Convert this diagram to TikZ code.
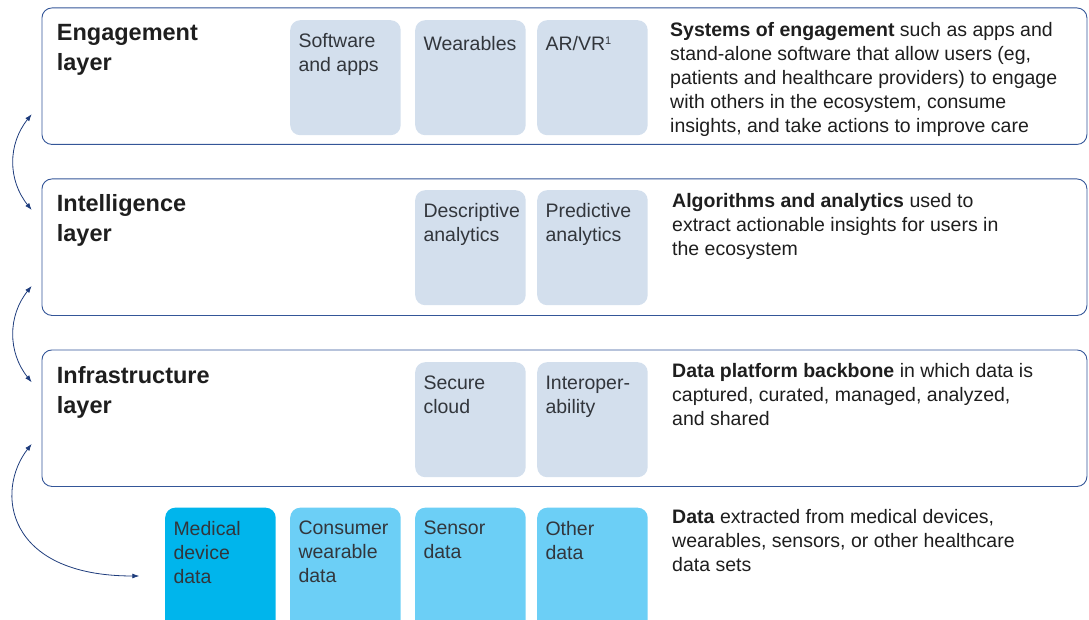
\documentclass[tikz,border=0pt]{standalone}
\usepackage{fontspec}
\setmainfont{Liberation Sans}
\usepackage{xcolor}
\usetikzlibrary{arrows.meta, positioning}
\definecolor{layerblue}{RGB}{52, 86, 152}
\definecolor{arrowblue}{RGB}{30, 60, 124}
\definecolor{toolcolor}{RGB}{211, 223, 237}
\definecolor{devicecolor}{RGB}{0, 181, 236}
\definecolor{datacolor}{RGB}{108, 207, 246}
\definecolor{inkcolor}{RGB}{30, 30, 30}
\definecolor{boxink}{RGB}{50, 54, 60}

\begin{document}
\begin{tikzpicture}[
    x=1pt, y=-1pt,
    layer/.style={draw=layerblue, line width=0.9pt, rounded corners=10pt, minimum width=1045pt, minimum height=136.5pt, anchor=north west, inner sep=0pt},
    title/.style={anchor=north west, align=left, inner sep=0pt, text=inkcolor, font=\fontsize{23.5}{30}\selectfont\bfseries, execute at begin node=\strut},
    element/.style={fill=toolcolor, rounded corners=10pt, minimum width=110.5pt, minimum height=115pt, anchor=north west, inner sep=0pt},
    eltext/.style={below right=13.4pt and 8.3pt of #1.north west, align=left, inner sep=0pt, text=boxink, font=\fontsize{19.5}{24}\selectfont, execute at begin node=\strut},
    desc/.style={anchor=north west, align=left, inner sep=0pt, text=inkcolor, font=\fontsize{19.5}{24}\selectfont, execute at begin node=\strut},
    link/.style={draw=arrowblue, line width=0.8pt, {Latex[length=7pt,width=5pt]}-{Latex[length=7pt,width=5pt]}},
]
    \useasboundingbox (0,0) rectangle (1089,620);

    % Layers
    \node[layer] (engage) at (41.5, 7.5) {};
    \node[title] (engagetitle) at (56.7, 24.5) {Engagement\\layer};

    \node[layer] (intel) at (41.5, 178.5) {};
    \node[title] (inteltitle) at (56.7, 194.5) {Intelligence\\layer};

    \node[layer] (infra) at (41.5, 349.5) {};
    \node[title] (infratitle) at (56.7, 366) {Infrastructure\\layer};

    % Engagement elements
    \node[element] (soft) at (290, 20) {};
    \node[eltext=soft] (softtext) {Software\\and apps};
    \node[element] (wear) at (415, 20) {};
    \node[eltext=wear] (weartext) {Wearables};
    \node[element] (arvr) at (537, 20) {};
    \node[eltext=arvr] (arvrtext) {AR/VR\raisebox{6pt}{\fontsize{11}{11}\selectfont 1}};

    % Intelligence elements
    \node[element] (descr) at (415, 190) {};
    \node[eltext=descr] (descrtext) {Descriptive\\analytics};
    \node[element] (pred) at (537, 190) {};
    \node[eltext=pred] (predtext) {Predictive\\analytics};

    % Infrastructure elements
    \node[element] (cloud) at (415, 362) {};
    \node[eltext=cloud] (cloudtext) {Secure\\cloud};
    \node[element] (interop) at (537, 362) {};
    \node[eltext=interop] (interoptext) {Interoper-\\ability};

    % Data elements
    \node[element, fill=devicecolor, minimum height=135pt] (device) at (165, 507.5) {};
    \node[eltext=device] (devicetext) {Medical\\device\\data};
    \node[element, fill=datacolor, minimum height=135pt] (consumer) at (290, 507.5) {};
    \node[eltext=consumer] (consumertext) {Consumer\\wearable\\data};
    \node[element, fill=datacolor, minimum height=135pt] (sensor) at (415, 507.5) {};
    \node[eltext=sensor] (sensortext) {Sensor\\data};
    \node[element, fill=datacolor, minimum height=135pt] (other) at (537, 507.5) {};
    \node[eltext=other] (othertext) {Other\\data};

    % Descriptions
    \node[desc] (engagedesc) at (670, 22) {\textbf{Systems of engagement} such as apps and\\stand-alone software that allow users (eg,\\patients and healthcare providers) to engage\\with others in the ecosystem, consume\\insights, and take actions to improve care};
    \node[desc] (inteldesc) at (672, 193.5) {\textbf{Algorithms and analytics} used to\\extract actionable insights for users in\\the ecosystem};
    \node[desc] (infradesc) at (672, 363.5) {\textbf{Data platform backbone} in which data is\\captured, curated, managed, analyzed,\\and shared};
    \node[desc] (datadesc) at (672, 509.5) {\textbf{Data} extracted from medical devices,\\wearables, sensors, or other healthcare\\data sets};

    % Links between layers
    \coordinate (engagetip) at ([xshift=-9.8pt, yshift=30.7pt]engage.south west);
    \coordinate (inteltop) at ([xshift=-9.8pt, yshift=-31.5pt]intel.north west);
    \coordinate (intellow) at ([xshift=-9.8pt, yshift=30pt]intel.south west);
    \coordinate (infratop) at ([xshift=-9.8pt, yshift=-32.8pt]infra.north west);
    \coordinate (infralow) at ([xshift=-9.8pt, yshift=43pt]infra.south west);
    \coordinate (devicetip) at ([xshift=-25.7pt, yshift=-68.5pt]device.north west);

    \draw[link] (engagetip) .. controls +(-24,30) and +(-24,-30) .. (inteltop);
    \draw[link] (intellow) .. controls +(-24,30) and +(-24,-30) .. (infratop);
    \draw[link] (infralow) .. controls +(-36.7,47) and +(-134,0) .. (devicetip);
\end{tikzpicture}
\end{document}
